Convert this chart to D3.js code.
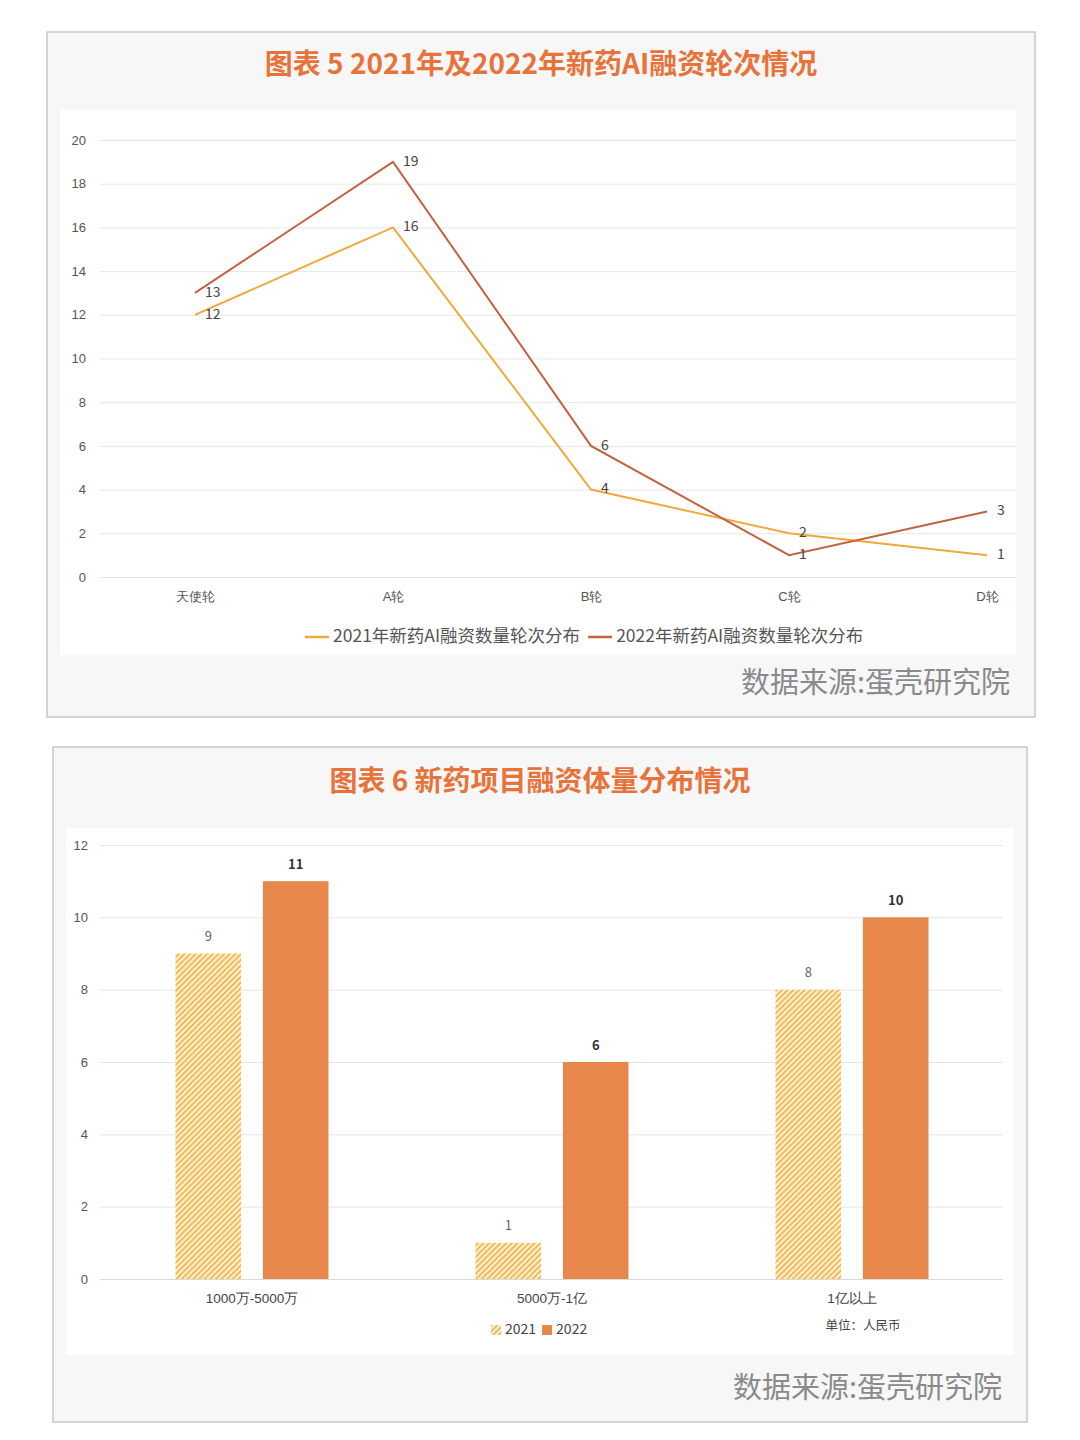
<!DOCTYPE html>
<html>
<head>
<meta charset="utf-8">
<script src="https://cdn.jsdelivr.net/npm/d3@7"></script>
<style>
  body { margin: 0; background: #fff; }
  svg { display: block; font-family: "Noto Sans CJK SC", "Noto Sans", sans-serif; }
</style>
</head>
<body>
<div id="chart"></div>
<script>
// ---- data ----
const rounds = ['天使轮', 'A轮', 'B轮', 'C轮', 'D轮'];
const count2021 = [12, 16, 4, 2, 1];
const count2022 = [13, 19, 6, 1, 3];
const lineTicks = [0, 2, 4, 6, 8, 10, 12, 14, 16, 18, 20];

const sizes = ['1000万-5000万', '5000万-1亿', '1亿以上'];
const size2021 = [9, 1, 8];
const size2022 = [11, 6, 10];
const barTicks = [0, 2, 4, 6, 8, 10, 12];

const C21 = '#f0a93a', C22 = '#c2633f', BAR22 = '#e8874c', TITLE = '#e8733a';

const svg = d3.select('#chart').append('svg').attr('width', 1080).attr('height', 1440);

const defs = svg.append('defs');
const pat = defs.append('pattern').attr('id', 'hatch')
  .attr('patternUnits', 'userSpaceOnUse').attr('width', 4).attr('height', 4)
  .attr('patternTransform', 'rotate(45)');
pat.append('rect').attr('width', 4).attr('height', 4).attr('fill', '#fdf0d4');
pat.append('rect').attr('width', 2).attr('height', 4).attr('fill', '#f3bb58');

// panel frame helper
function panel(x, y, w, h, title, ty, inner) {
  const g = svg.append('g');
  g.append('rect').attr('x', x).attr('y', y).attr('width', w).attr('height', h)
    .attr('fill', '#f7f7f7').attr('stroke', '#c8c8c8').attr('stroke-width', 1.5);
  g.append('rect').attr('x', inner[0]).attr('y', inner[1]).attr('width', inner[2]).attr('height', inner[3])
    .attr('fill', '#fff');
  g.append('text').attr('x', x + w / 2).attr('y', ty).attr('text-anchor', 'middle')
    .attr('dominant-baseline', 'middle').attr('fill', TITLE)
    .attr('font-size', 28).attr('font-weight', 700).text(title);
  return g;
}

// ============ Chart 5: line ============
panel(47, 32, 988, 685, '图表 5 2021年及2022年新药AI融资轮次情况', 66, [60, 110, 956, 545]);

const x5 = d3.scalePoint().domain(rounds).range([195, 987]);
const y5 = d3.scaleLinear().domain([0, 20]).range([577, 140]);

const g5 = svg.append('g');
g5.append('g').attr('transform', 'translate(100,0)')
  .call(d3.axisLeft(y5).tickValues(lineTicks).tickSize(-916).tickPadding(14))
  .call(a => a.select('.domain').remove())
  .call(a => a.selectAll('.tick line').attr('stroke', '#e6e6e6'))
  .call(a => a.selectAll('.tick text').attr('fill', '#555').attr('font-size', 13));

g5.append('g').attr('transform', 'translate(0,577)')
  .call(d3.axisBottom(x5).tickSize(0).tickPadding(15))
  .call(a => a.select('.domain').remove())
  .call(a => a.selectAll('.tick text').attr('fill', '#555').attr('font-size', 13));

const series5 = [
  { name: '2021年新药AI融资数量轮次分布', vals: count2021, color: C21 },
  { name: '2022年新药AI融资数量轮次分布', vals: count2022, color: C22 }
];
const line5 = d3.line().x((d, i) => x5(rounds[i])).y(d => y5(d));
series5.forEach(s => {
  g5.append('path').datum(s.vals).attr('d', line5)
    .attr('fill', 'none').attr('stroke', s.color).attr('stroke-width', 2);
  g5.selectAll(null).data(s.vals).join('text')
    .attr('x', (d, i) => x5(rounds[i]) + 10)
    .attr('y', d => y5(d))
    .attr('dominant-baseline', 'middle')
    .attr('fill', '#444').attr('font-size', 14)
    .text(d => d);
});

// legend
const leg5 = g5.append('g').attr('transform', 'translate(305,637)');
let lx = 0;
series5.forEach(s => {
  leg5.append('line').attr('x1', lx).attr('x2', lx + 24).attr('y1', 0).attr('y2', 0)
    .attr('stroke', s.color).attr('stroke-width', 2.5);
  const t = leg5.append('text').attr('x', lx + 28).attr('y', 0).attr('dominant-baseline', 'middle')
    .attr('fill', '#555').attr('font-size', 17.5).text(s.name);
  lx += 28 + t.node().getComputedTextLength() + 8;
});

svg.append('text').attr('x', 1010).attr('y', 685).attr('text-anchor', 'end')
  .attr('dominant-baseline', 'middle').attr('fill', '#8a8a8a').attr('font-size', 29)
  .text('数据来源:蛋壳研究院');

// ============ Chart 6: bars ============
panel(53, 747, 974, 675, '图表 6  新药项目融资体量分布情况', 783, [66, 828, 948, 527]);

const x6 = d3.scaleBand().domain(sizes).range([102, 1002]).paddingInner(0.49).paddingOuter(0.245);
const sub6 = d3.scaleBand().domain(['2021', '2022']).range([0, x6.bandwidth()]).paddingInner(0.25);
const y6 = d3.scaleLinear().domain([0, 12]).range([1279, 845]);

const g6 = svg.append('g');
g6.append('g').attr('transform', 'translate(100,0)')
  .call(d3.axisLeft(y6).tickValues(barTicks).tickSize(-903).tickPadding(12))
  .call(a => a.select('.domain').remove())
  .call(a => a.selectAll('.tick line').attr('stroke', '#e6e6e6'))
  .call(a => a.selectAll('.tick text').attr('fill', '#555').attr('font-size', 13));

g6.append('line').attr('x1', 100).attr('x2', 1003).attr('y1', 1279.5).attr('y2', 1279.5)
  .attr('stroke', '#d9d9d9');

g6.append('g').attr('transform', 'translate(0,1279)')
  .call(d3.axisBottom(x6).tickSize(0).tickPadding(14))
  .call(a => a.select('.domain').remove())
  .call(a => a.selectAll('.tick text').attr('fill', '#444').attr('font-size', 13.5));

const bars6 = [
  { key: '2021', vals: size2021, fill: 'url(#hatch)', lab: '#666', w: 400 },
  { key: '2022', vals: size2022, fill: BAR22, lab: '#333', w: 700 }
];
bars6.forEach(s => {
  g6.selectAll(null).data(s.vals).join('rect')
    .attr('x', (d, i) => x6(sizes[i]) + sub6(s.key))
    .attr('y', d => y6(d))
    .attr('width', sub6.bandwidth())
    .attr('height', d => y6(0) - y6(d))
    .attr('fill', s.fill);
  g6.selectAll(null).data(s.vals).join('text')
    .attr('x', (d, i) => x6(sizes[i]) + sub6(s.key) + sub6.bandwidth() / 2)
    .attr('y', d => y6(d) - 16)
    .attr('text-anchor', 'middle').attr('dominant-baseline', 'middle')
    .attr('fill', s.lab).attr('font-size', 13).attr('font-weight', s.w)
    .text(d => d);
});

// legend
const leg6 = g6.append('g').attr('transform', 'translate(491,1330)');
let bx = 0;
bars6.forEach(s => {
  leg6.append('rect').attr('x', bx).attr('y', -5).attr('width', 10).attr('height', 10).attr('fill', s.fill);
  const t = leg6.append('text').attr('x', bx + 14).attr('y', 0).attr('dominant-baseline', 'middle')
    .attr('fill', '#444').attr('font-size', 14).text(s.key);
  bx += 14 + t.node().getComputedTextLength() + 6;
});

g6.append('text').attr('x', 863).attr('y', 1327).attr('text-anchor', 'middle')
  .attr('dominant-baseline', 'middle').attr('fill', '#444').attr('font-size', 12.5)
  .text('单位：人民币');

svg.append('text').attr('x', 1002).attr('y', 1390).attr('text-anchor', 'end')
  .attr('dominant-baseline', 'middle').attr('fill', '#8a8a8a').attr('font-size', 29)
  .text('数据来源:蛋壳研究院');
</script>
</body>
</html>
